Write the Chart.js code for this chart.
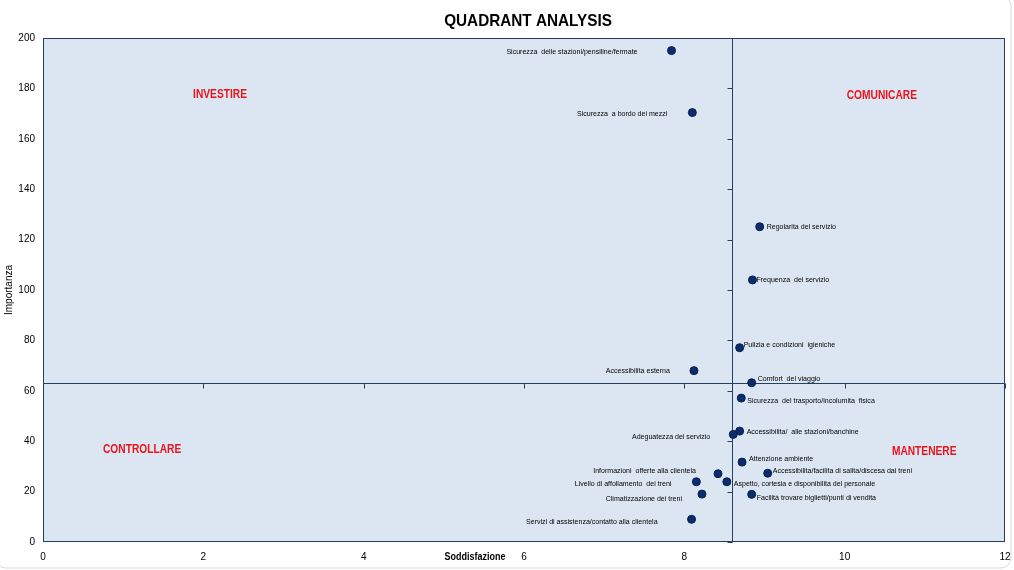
<!DOCTYPE html>
<html>
<head>
<meta charset="utf-8">
<script src="https://cdn.jsdelivr.net/npm/chart.js@4.4.0/dist/chart.umd.min.js"></script>
<style>
html,body{margin:0;padding:0;background:#fff;}
#wrap{position:relative;width:1014px;height:570px;}
</style>
</head>
<body>
<div id="wrap"><canvas id="c" width="1014" height="570"></canvas></div>
<script>
// ---- data ----
const categories = [
  "Sicurezza  delle stazioni/pensiline/fermate",
  "Sicurezza  a bordo dei mezzi",
  "Regolarita del servizio",
  "Frequenza  del servizio",
  "Pulizia e condizioni  igieniche",
  "Accessibilita esterna",
  "Comfort  del viaggio",
  "Sicurezza  del trasporto/incolumita  fisica",
  "Accessibilita/  alle stazioni/banchine",
  "Adeguatezza del servizio",
  "Attenzione ambiente",
  "Accessibilita/facilita di salita/discesa dai treni",
  "Informazioni  offerte alla clientela",
  "Aspetto, cortesia e disponibilita del personale",
  "Livello di affollamento  dei treni",
  "Facilità trovare biglietti/punti di vendita",
  "Climatizzazione dei treni",
  "Servizi di assistenza/contatto alla clientela"
];
const soddisfazione = [7.84, 8.10, 8.94, 8.85, 8.69, 8.12, 8.84, 8.71, 8.69, 8.61, 8.72, 9.04, 8.42, 8.53, 8.15, 8.84, 8.22, 8.09];
const importanza    = [195.0, 170.4, 125.1, 104.0, 77.1, 68.0, 63.2, 57.1, 44.0, 42.7, 31.7, 27.3, 27.1, 23.9, 23.9, 18.9, 19.0, 9.0];
const xTickLabels = [0, 2, 4, 6, 8, 10, 12];
const yTickLabels = [0, 20, 40, 60, 80, 100, 120, 140, 160, 180, 200];
const crossSoddisfazione = 8.6;
const crossImportanza = 63.1;
const quadrantNames = ["INVESTIRE", "COMUNICARE", "CONTROLLARE", "MANTENERE"];

// ---- styling (label placement) ----
// [side, dx from point centre, dy from point centre]
const labelPlacement = [
  ["left", -34, 1], ["left", -25, 1.5], ["right", 7, 0], ["right", 4, 0],
  ["right", 4, -3], ["left", -24, 0], ["right", 6, -4], ["right", 6, 3],
  ["right", 7, 1], ["left", -23, 2], ["right", 7, -3], ["right", 5, -2.5],
  ["left", -22, -3], ["right", 7, 2], ["left", -25, 2], ["right", 5, 3],
  ["left", -20, 5], ["left", -34, 2]
];
// quadrant label anchors as fractions of plot area
const quadrantAnchor = [[0.184, 0.113], [0.872, 0.115], [0.103, 0.816], [0.916, 0.820]];

const NAVY = '#243f60';
const LBL_FONT = '"Liberation Sans", Arial, sans-serif';

// draws text horizontally condensed (to mimic a narrow face)
function condText(ctx, text, x, y, align, sx) {
  ctx.save();
  ctx.translate(x, y);
  ctx.scale(sx, 1);
  ctx.textAlign = align;
  ctx.fillText(text, 0, 0);
  ctx.restore();
}

const decor = {
  id: 'decor',
  beforeDraw(chart) {
    const ctx = chart.ctx, a = chart.chartArea;
    ctx.save();
    ctx.fillStyle = '#ffffff';
    ctx.fillRect(0, 0, chart.width, chart.height);
    ctx.strokeStyle = '#d9d9d9';
    ctx.lineWidth = 1;
    ctx.beginPath();
    ctx.roundRect(-4.5, -4.5, 1015.5, 572.5, 10);
    ctx.stroke();
    ctx.fillStyle = '#dce6f2';
    ctx.fillRect(a.left, a.top, a.right - a.left, a.bottom - a.top);
    ctx.fillStyle = '#000';
    ctx.font = 'bold 17px ' + LBL_FONT;
    ctx.textBaseline = 'middle';
    condText(ctx, 'QUADRANT ANALYSIS', 528, 21, 'center', 0.9);
    ctx.restore();
  },
  beforeDatasetsDraw(chart) {
    const ctx = chart.ctx, a = chart.chartArea;
    const xs = chart.scales.x, ys = chart.scales.y;
    ctx.save();
    ctx.strokeStyle = NAVY;
    ctx.lineWidth = 1;
    const cx = Math.round(xs.getPixelForValue(crossSoddisfazione)) + 0.5;
    const cy = Math.round(ys.getPixelForValue(crossImportanza)) + 0.5;
    ctx.beginPath();
    ctx.moveTo(cx, a.top); ctx.lineTo(cx, a.bottom);
    ctx.moveTo(a.left, cy); ctx.lineTo(a.right, cy);
    yTickLabels.forEach(v => {
      const y = Math.round(ys.getPixelForValue(v)) + 0.5;
      ctx.moveTo(cx - 5, y); ctx.lineTo(cx, y);
    });
    xTickLabels.forEach(v => {
      const x = Math.round(xs.getPixelForValue(v)) + 0.5;
      ctx.moveTo(x, cy); ctx.lineTo(x, cy + 5);
    });
    ctx.stroke();
    ctx.strokeRect(Math.round(a.left) + 0.5, Math.round(a.top) + 0.5,
      Math.round(a.right - a.left) - 1, Math.round(a.bottom - a.top) - 1);
    ctx.fillStyle = '#e8141b';
    ctx.font = 'bold 12px ' + LBL_FONT;
    ctx.textBaseline = 'middle';
    quadrantNames.forEach((n, i) => {
      const p = quadrantAnchor[i];
      condText(ctx, n, a.left + p[0] * (a.right - a.left), a.top + p[1] * (a.bottom - a.top), 'center', 0.85);
    });
    ctx.fillStyle = '#000';
    ctx.font = 'bold 10px ' + LBL_FONT;
    condText(ctx, 'Soddisfazione', a.left + 0.449 * (a.right - a.left), 557, 'center', 0.9);
    ctx.restore();
  },
  afterDatasetsDraw(chart) {
    const ctx = chart.ctx;
    const meta = chart.getDatasetMeta(0);
    ctx.save();
    ctx.fillStyle = '#000';
    ctx.font = '8px ' + LBL_FONT;
    ctx.textBaseline = 'middle';
    meta.data.forEach((pt, i) => {
      const pl = labelPlacement[i];
      condText(ctx, categories[i], pt.x + pl[1], pt.y + pl[2], pl[0] === 'left' ? 'right' : 'left', 0.88);
    });
    ctx.restore();
  }
};

new Chart(document.getElementById('c'), {
  type: 'scatter',
  data: {
    datasets: [{
      data: soddisfazione.map((x, i) => ({ x: x, y: importanza[i] })),
      backgroundColor: '#0b2d6e',
      borderColor: '#06204f',
      borderWidth: 1,
      pointRadius: 4,
      pointHoverRadius: 4
    }]
  },
  options: {
    responsive: false,
    animation: false,
    events: [],
    layout: { padding: { left: 0, right: 9, top: 38, bottom: 0 } },
    plugins: { legend: { display: false }, tooltip: { enabled: false }, title: { display: false } },
    scales: {
      x: {
        type: 'linear', min: 0, max: 12,
        afterBuildTicks: s => { s.ticks = xTickLabels.map(v => ({ value: v })); },
        afterFit: s => { s.height = 28; s.paddingLeft = 0; s.paddingRight = 0; },
        grid: { display: false, drawTicks: false },
        border: { display: false },
        ticks: { padding: 9, color: '#000', font: { family: LBL_FONT, size: 10 } }
      },
      y: {
        type: 'linear', min: 0, max: 200,
        afterBuildTicks: s => { s.ticks = yTickLabels.map(v => ({ value: v })); },
        afterFit: s => { s.width = 43; s.paddingTop = 0; s.paddingBottom = 0; },
        grid: { display: false, drawTicks: false },
        border: { display: false },
        title: { display: true, text: 'Importanza', color: '#000', padding: { top: 3, bottom: 0 },
                 font: { family: LBL_FONT, size: 10 } },
        ticks: { padding: 8, color: '#000', font: { family: LBL_FONT, size: 10 } }
      }
    }
  },
  plugins: [decor]
});
</script>
</body>
</html>
